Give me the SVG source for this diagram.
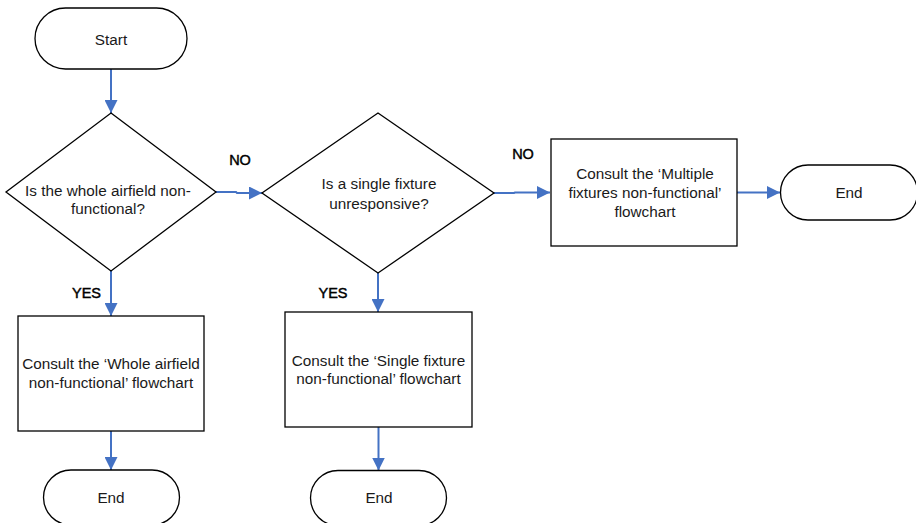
<svg xmlns="http://www.w3.org/2000/svg" width="916" height="523" viewBox="0 0 916 523">
  <defs>
    <marker id="arrow" viewBox="0 0 10 10" refX="10" refY="5" markerWidth="6.5" markerHeight="6.5" markerUnits="strokeWidth" orient="auto">
      <path d="M0,0 L10,5 L0,10 z" fill="#4472C4"/>
    </marker>
  </defs>
  <style>
    .shape { fill: #ffffff; stroke: #000000; stroke-width: 1.3; }
    .label { font-family: "Liberation Sans", Arial, sans-serif; font-size: 15.3px; fill: #1a1a1a; text-anchor: middle; dominant-baseline: central; }
    .branch { font-family: "Liberation Sans", Arial, sans-serif; font-size: 14.5px; fill: #000000; stroke: #000000; stroke-width: 0.45; text-anchor: middle; dominant-baseline: central; }
    .flow { fill: none; stroke: #4472C4; stroke-width: 2; marker-end: url(#arrow); }
  </style>
  <rect width="916" height="523" fill="#ffffff"/>

  <!-- connectors -->
  <g id="connectors">
    <polyline class="flow" points="111,69 111,113"/>
    <polyline class="flow" points="216,192 236,192 237,193 262,193"/>
    <polyline class="flow" points="494,193 514,193 515,192.5 550,192.5"/>
    <polyline class="flow" points="737,192.5 780,192.5"/>
    <polyline class="flow" points="111,271 111,316"/>
    <polyline class="flow" points="378,273 378,312"/>
    <polyline class="flow" points="111,431 111,470"/>
    <polyline class="flow" points="378.5,427 378.5,470.5"/>
    <text class="branch" x="240" y="160">NO</text>
    <text class="branch" x="523" y="154">NO</text>
    <text class="branch" x="86.5" y="293">YES</text>
    <text class="branch" x="333" y="293">YES</text>
  </g>

  <g id="start">
    <rect class="shape" x="35" y="8" width="152" height="61" rx="30.5" ry="30.5"/>
    <text class="label" x="111" y="39">Start</text>
  </g>

  <g id="whole-airfield-decision">
    <polygon class="shape" points="111,113 216,192 111,271 6,192"/>
    <text class="label" x="108" y="190">Is the whole airfield non-</text>
    <text class="label" x="108" y="208">functional?</text>
  </g>

  <g id="single-fixture-decision">
    <polygon class="shape" points="378,113 494,193 378,273 262,193"/>
    <text class="label" x="379" y="183.5">Is a single fixture</text>
    <text class="label" x="379" y="203">unresponsive?</text>
  </g>

  <g id="multiple-fixtures-box">
    <rect class="shape" x="551" y="139" width="186" height="107"/>
    <text class="label" x="645" y="173.5">Consult the ‘Multiple</text>
    <text class="label" x="645" y="192.5">fixtures non-functional’</text>
    <text class="label" x="645" y="211">flowchart</text>
  </g>

  <g id="end-multiple">
    <rect class="shape" x="780.5" y="165" width="137" height="55" rx="27.5" ry="27.5"/>
    <text class="label" x="849" y="192.5">End</text>
  </g>

  <g id="whole-airfield-box">
    <rect class="shape" x="18" y="316" width="186" height="115"/>
    <text class="label" x="111" y="363.5">Consult the ‘Whole airfield</text>
    <text class="label" x="111" y="382">non-functional’ flowchart</text>
  </g>

  <g id="end-whole">
    <rect class="shape" x="43.5" y="470" width="136" height="55" rx="27.5" ry="27.5"/>
    <text class="label" x="111" y="497.5">End</text>
  </g>

  <g id="single-fixture-box">
    <rect class="shape" x="285" y="312" width="187" height="115"/>
    <text class="label" x="378.5" y="360">Consult the ‘Single fixture</text>
    <text class="label" x="378.5" y="378.5">non-functional’ flowchart</text>
  </g>

  <g id="end-single">
    <rect class="shape" x="310.5" y="470.5" width="136" height="55" rx="27.5" ry="27.5"/>
    <text class="label" x="379" y="497.5">End</text>
  </g>
</svg>
